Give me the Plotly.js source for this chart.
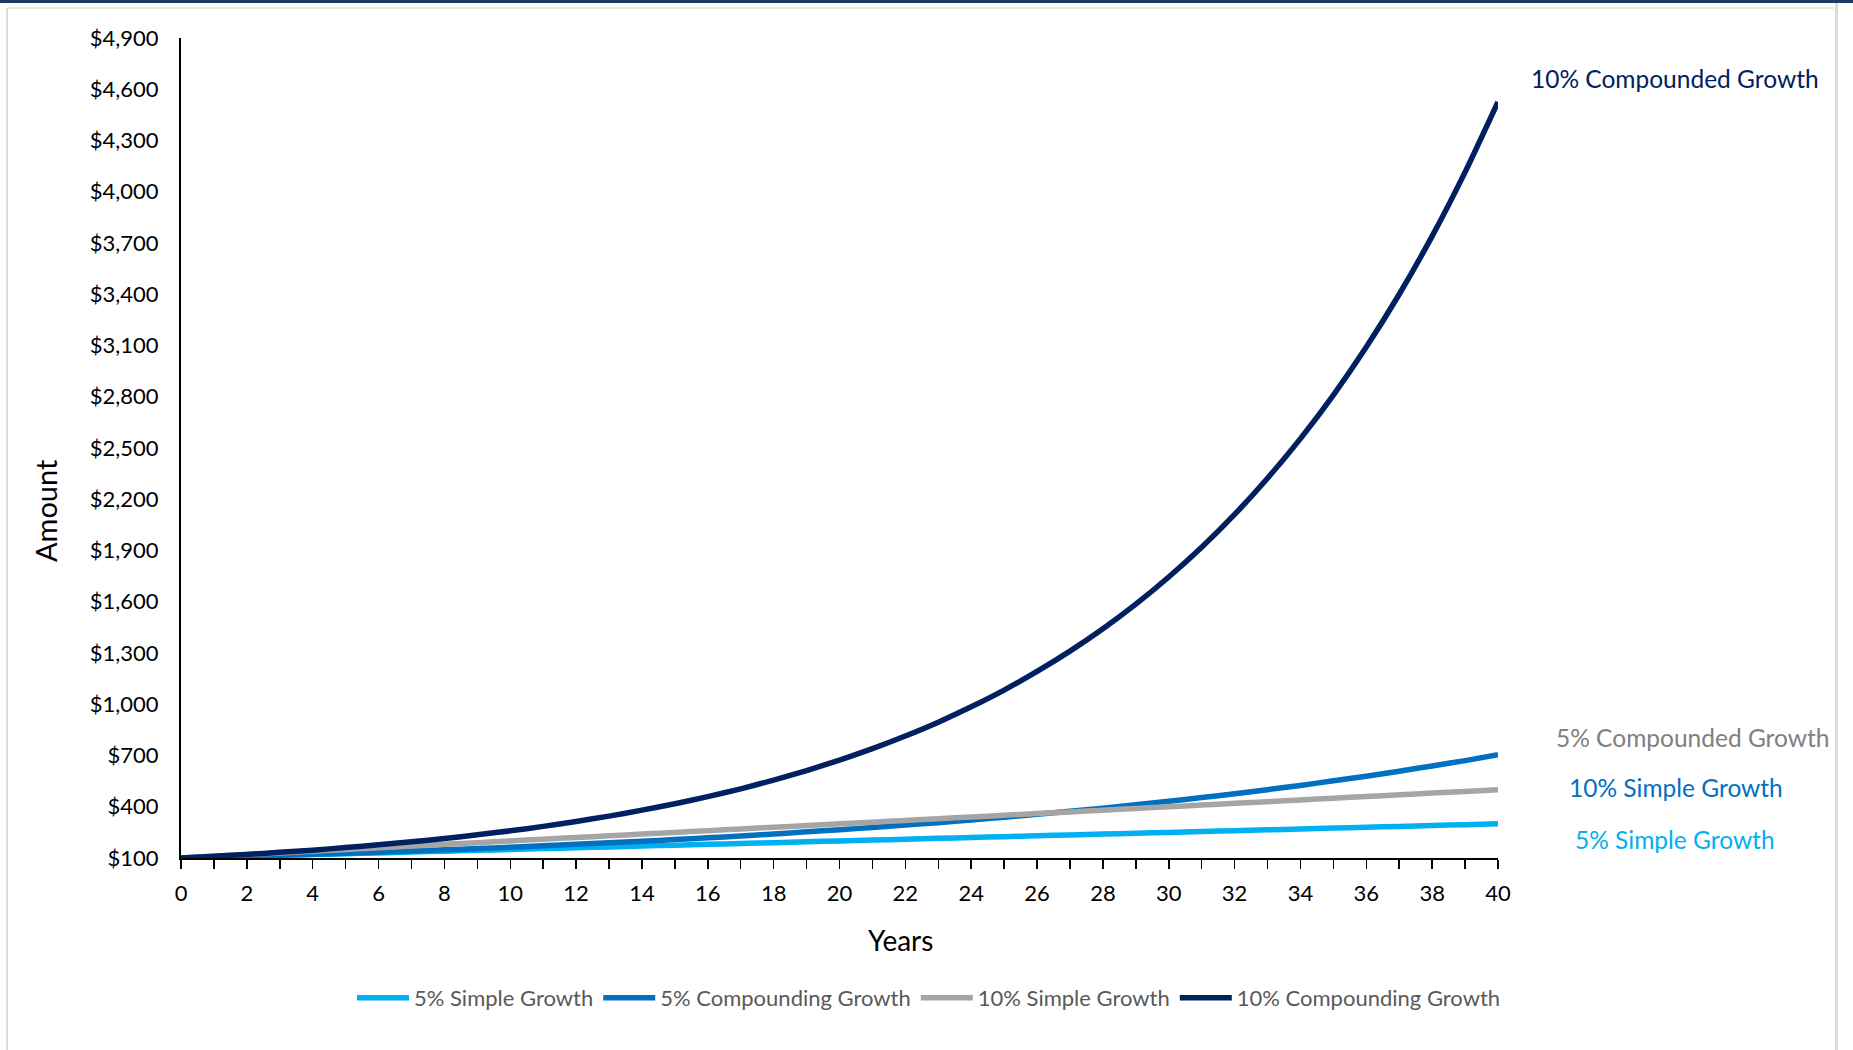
<!DOCTYPE html>
<html>
<head>
<meta charset="utf-8">
<script src="https://cdn.plot.ly/plotly-3.0.1.min.js"></script>
<style>
  html, body { margin: 0; padding: 0; background: #fff; }
  #wrap { position: relative; width: 1853px; height: 1050px; overflow: hidden; }
  #chart { position: absolute; left: 0; top: 0; width: 1853px; height: 1050px; }
  .deco { position: absolute; pointer-events: none; }
</style>
</head>
<body>
<div id="wrap">
  <div id="chart"></div>
  <div class="deco" style="left:0;top:0;width:1853px;height:3px;background:#1f3864;"></div>
  <div class="deco" style="left:8px;top:7px;width:1826px;height:2px;background:#e6e6e6;"></div>
  <div class="deco" style="left:6px;top:8px;width:2px;height:1042px;background:#dcdcdc;"></div>
  <div class="deco" style="left:1835px;top:3px;width:3px;height:1047px;background:#dcdcdc;"></div>
</div>
<script>
// Years 0..40
const years = [0,1,2,3,4,5,6,7,8,9,10,11,12,13,14,15,16,17,18,19,20,21,22,23,24,25,26,27,28,29,30,31,32,33,34,35,36,37,38,39,40];

const simple5 = [100,105,110,115,120,125,130,135,140,145,150,155,160,165,170,175,180,185,190,195,200,205,210,215,220,225,230,235,240,245,250,255,260,265,270,275,280,285,290,295,300];
const compound5 = [100,105,110,116,122,128,134,141,148,155,163,171,180,189,198,208,218,229,241,253,265,279,293,307,323,339,356,373,392,412,432,454,476,500,525,552,579,608,639,670,704];
const simple10 = [100,110,120,130,140,150,160,170,180,190,200,210,220,230,240,250,260,270,280,290,300,310,320,330,340,350,360,370,380,390,400,410,420,430,440,450,460,470,480,490,500];
const compound10 = [100,110,121,133,146,161,177,195,214,236,259,285,314,345,380,418,459,505,556,612,673,740,814,895,985,1083,1192,1311,1442,1586,1745,1919,2111,2323,2555,2810,3091,3400,3740,4115,4526];

const seriesNames = ["5% Simple Growth","5% Compounding Growth","10% Simple Growth","10% Compounding Growth"];
const seriesColors = ["#00B0F0","#0070C0","#A5A5A5","#002060"];
const seriesData = [simple5, compound5, simple10, compound10];

const endLabels = ["10% Compounded Growth","5% Compounded Growth","10% Simple Growth","5% Simple Growth"];
const endLabelColors = ["#002060","#808080","#0070C0","#00B0F0"];

const yTickVals = [100,400,700,1000,1300,1600,1900,2200,2500,2800,3100,3400,3700,4000,4300,4600,4900];
const yTickText = ["$100","$400","$700","$1,000","$1,300","$1,600","$1,900","$2,200","$2,500","$2,800","$3,100","$3,400","$3,700","$4,000","$4,300","$4,600","$4,900"];

const xTitle = "Years";
const yTitle = "Amount";

const FONT = "Lato, 'Open Sans', sans-serif";

const traces = seriesData.map((d, i) => ({
  x: years, y: d, type: 'scatter', mode: 'lines', name: seriesNames[i],
  line: { color: seriesColors[i], width: 5.5, shape: 'spline', smoothing: 0.6 },
  hoverinfo: 'skip'
}));

// plot area: x 181..1498, y 38..858 (pixels)
const L = 181, R = 1498, T = 38, B = 858;
function px(xp) { return (xp - L) / (R - L); }
function py(yp) { return (B - yp) / (B - T); }
const labelPos = [[1675, 78],[1692, 737],[1676, 787],[1675, 839]];

const annotations = endLabels.map((t, i) => ({
  text: t, xref: 'paper', yref: 'paper', x: px(labelPos[i][0]), y: py(labelPos[i][1]),
  xanchor: 'center', yanchor: 'middle', showarrow: false,
  font: { family: FONT, size: 24.5, color: endLabelColors[i] }
}));
annotations.push({
  text: xTitle, xref: 'paper', yref: 'paper', x: px(900), y: py(940),
  xanchor: 'center', yanchor: 'middle', showarrow: false,
  font: { family: FONT, size: 28, color: '#000' }
});
annotations.push({
  text: yTitle, xref: 'paper', yref: 'paper', x: px(45), y: py(511), textangle: -90,
  xanchor: 'center', yanchor: 'middle', showarrow: false,
  font: { family: FONT, size: 29, color: '#000' }
});

const layout = {
  width: 1853, height: 1050,
  margin: { l: L, r: 1853 - R, t: T, b: 1050 - B, pad: 0 },
  paper_bgcolor: '#ffffff', plot_bgcolor: '#ffffff',
  font: { family: FONT, color: '#000' },
  showlegend: true,
  legend: {
    orientation: 'h', x: px(929), y: py(998), xanchor: 'center', yanchor: 'middle',
    font: { family: FONT, size: 22, color: '#595959' },
    itemwidth: 52, tracegroupgap: 0, traceorder: 'normal'
  },
  xaxis: {
    range: [0, 40], tickmode: 'linear', tick0: 0, dtick: 2,
    showgrid: false, zeroline: false,
    showline: true, linecolor: '#000', linewidth: 2,
    ticks: 'outside', ticklen: 9, tickwidth: 1.5, tickcolor: '#000',
    ticklabelstandoff: 6,
    minor: { tickmode: 'linear', tick0: 0, dtick: 1, ticks: 'outside', ticklen: 9, tickwidth: 1.5, tickcolor: '#000', showgrid: false },
    tickfont: { family: FONT, size: 22, color: '#000' },
    fixedrange: true
  },
  yaxis: {
    range: [100, 4900], tickmode: 'array', tickvals: yTickVals, ticktext: yTickText,
    showgrid: false, zeroline: false,
    showline: true, linecolor: '#000', linewidth: 2,
    ticks: '', ticklabelstandoff: 16,
    tickfont: { family: FONT, size: 22, color: '#000' },
    fixedrange: true
  },
  annotations: annotations
};

Plotly.newPlot('chart', traces, layout, { displayModeBar: false, staticPlot: true });
</script>
</body>
</html>
